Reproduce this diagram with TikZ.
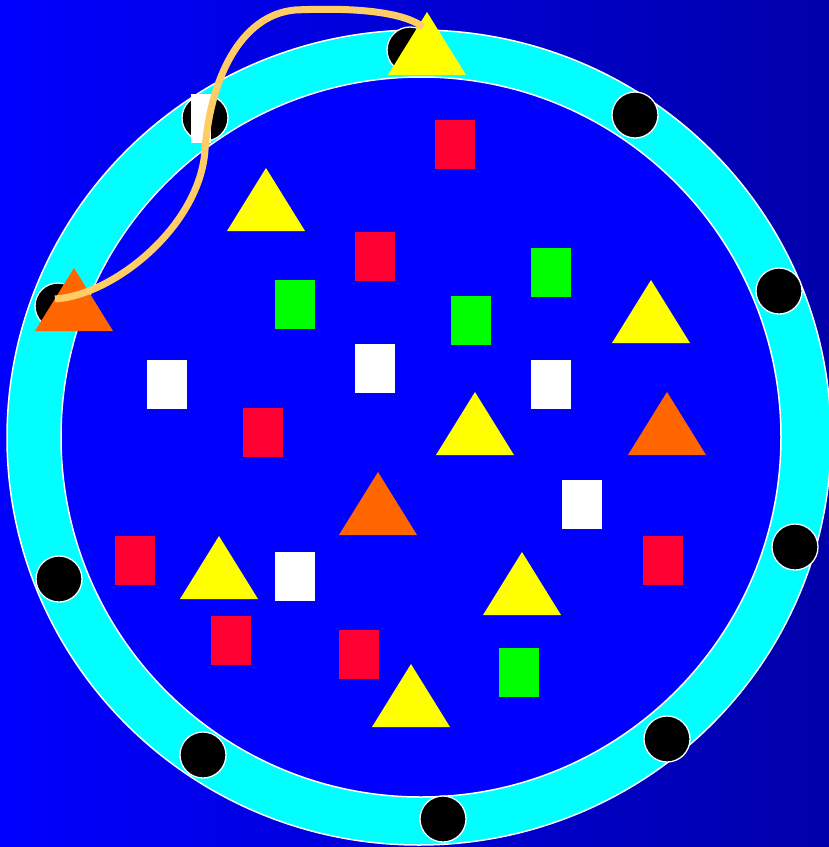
\documentclass[tikz,border=0pt]{standalone}
\usepackage{tikz}
\usetikzlibrary{positioning}
\definecolor{bgright}{RGB}{0,0,170}
\definecolor{ringcyan}{RGB}{0,255,255}
\definecolor{boxred}{RGB}{255,0,51}
\definecolor{boxgreen}{RGB}{0,255,0}
\definecolor{triyellow}{RGB}{255,255,0}
\definecolor{triorange}{RGB}{255,102,0}
\definecolor{linkorange}{RGB}{255,204,102}
\tikzset{
  ball/.style={circle, fill=black, draw=white, line width=1.3pt, minimum size=46pt, inner sep=0pt},
  tok/.style={rectangle, inner sep=0pt, outer sep=0pt, minimum width=40pt, minimum height=49pt},
  redtok/.style={tok, fill=boxred},
  greentok/.style={tok, fill=boxgreen},
  whitetok/.style={tok, fill=white},
  link/.style={draw=linkorange, line width=7pt}
}
% triangle with its apex at (#2,#3)
\newcommand{\tri}[4]{%
  \coordinate (#1) at (#2,#3);
  \fill[#4] (#1) -- ++(-39,63) -- ++(78,0) -- cycle;}

\begin{document}
\begin{tikzpicture}[x=1pt,y=-1pt]
\useasboundingbox (0,0) rectangle (829,847);
\shade[left color=blue, right color=bgright] (0,0) rectangle (829,847);
% ring and disc
\filldraw[fill=ringcyan, draw=white, line width=1.5pt] (419,437.5) ellipse [x radius=412, y radius=407.5];
\filldraw[fill=blue, draw=white, line width=1.5pt] (421,437) circle [radius=360];
% balls on the ring
\node[ball] (b1) at (410,50) {};
\node[ball] (b2) at (205,118) {};
\node[ball] (b3) at (635,115) {};
\node[ball] (b4) at (779,291) {};
\node[ball] (b5) at (58,306) {};
\node[ball] (b6) at (795,547) {};
\node[ball] (b7) at (59,579) {};
\node[ball] (b8) at (203,755) {};
\node[ball] (b9) at (667,739) {};
\node[ball] (b10) at (443,819) {};
% red tokens
\node[redtok] (r1) at (455,144.5) {};
\node[redtok] (r2) at (375,256.5) {};
\node[redtok] (r3) at (263,432.5) {};
\node[redtok] (r4) at (135,560.5) {};
\node[redtok] (r5) at (231,640.5) {};
\node[redtok] (r6) at (359,654.5) {};
\node[redtok] (r7) at (663,560.5) {};
% green tokens
\node[greentok] (g1) at (295,304.5) {};
\node[greentok] (g2) at (551,272.5) {};
\node[greentok] (g3) at (471,320.5) {};
\node[greentok] (g4) at (519,672.5) {};
% white tokens
\node[whitetok, minimum width=20pt] (w1) at (201,118.5) {};
\node[whitetok] (w2) at (167,384.5) {};
\node[whitetok] (w3) at (375,368.5) {};
\node[whitetok] (w4) at (551,384.5) {};
\node[whitetok] (w5) at (582,504.5) {};
\node[whitetok] (w6) at (295,576.5) {};
% triangles
\tri{t1}{427}{12}{triyellow}
\tri{t2}{266}{168}{triyellow}
\tri{t3}{74}{268}{triorange}
\tri{t4}{651}{280}{triyellow}
\tri{t5}{667}{392}{triorange}
\tri{t6}{475}{392}{triyellow}
\tri{t7}{378}{472}{triorange}
\tri{t8}{219}{536}{triyellow}
\tri{t9}{522}{552}{triyellow}
\tri{t10}{411}{664}{triyellow}
% link between the two ends
\coordinate (lstart) at (55,299);
\coordinate (lend) at (423,27);
\draw[link] (lstart) .. controls (115,295) and (200,225) .. (205,150)
  .. controls (210,80) and (240,15) .. (295,10)
  .. controls (360,7) and (405,13) .. (lend);
\end{tikzpicture}
\end{document}
